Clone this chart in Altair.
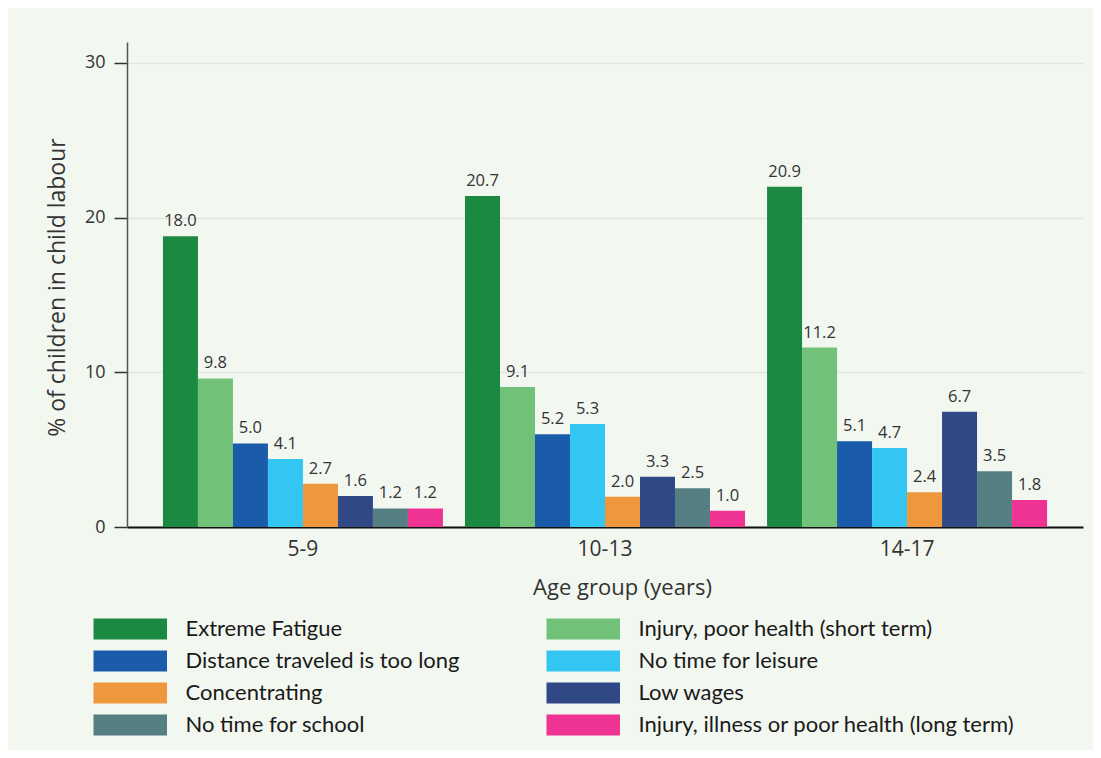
import altair as alt
import pandas as pd

groups = ["5-9", "10-13", "14-17"]
series = [
    "Extreme Fatigue",
    "Injury, poor health (short term)",
    "Distance traveled is too long",
    "No time for leisure",
    "Concentrating",
    "Low wages",
    "No time for school",
    "Injury, illness or poor health (long term)",
]
colors = ["#1c8942", "#71c278", "#1a5ca9", "#33c6f3", "#ef973c", "#314886", "#557f82", "#ef3393"]

# bar heights as drawn
bars_5_9 = [18.8, 9.6, 5.4, 4.4, 2.8, 2.0, 1.2, 1.2]
bars_10_13 = [21.4, 9.05, 6.0, 6.65, 1.95, 3.25, 2.5, 1.05]
bars_14_17 = [22.0, 11.6, 5.55, 5.1, 2.25, 7.45, 3.6, 1.75]
# printed value labels
labels_5_9 = ["18.0", "9.8", "5.0", "4.1", "2.7", "1.6", "1.2", "1.2"]
labels_10_13 = ["20.7", "9.1", "5.2", "5.3", "2.0", "3.3", "2.5", "1.0"]
labels_14_17 = ["20.9", "11.2", "5.1", "4.7", "2.4", "6.7", "3.5", "1.8"]

rows = []
for g, vals, labs in zip(groups, [bars_5_9, bars_10_13, bars_14_17],
                         [labels_5_9, labels_10_13, labels_14_17]):
    for s, v, l in zip(series, vals, labs):
        rows.append({"group": g, "series": s, "value": v, "label": l})
df = pd.DataFrame(rows)

FONT = "Open Sans"
LFONT = "Lato"
TXT = "#333333"

base = alt.Chart(df).encode(
    x=alt.X(
        "group:N",
        sort=groups,
        scale=alt.Scale(paddingInner=0.073, paddingOuter=0.119),
        axis=alt.Axis(
            title="Age group (years)",
            labelAngle=0,
            labelFontSize=21,
            labelFont=FONT,
            labelColor=TXT,
            labelPadding=11,
            ticks=False,
            domainColor="#111111",
            domainWidth=2,
            titleFont=FONT,
            titleFontSize=22,
            titleFontWeight="normal",
            titleColor=TXT,
            titleX=495,
            titleY=60,
            titleBaseline="middle",
        ),
    ),
    xOffset=alt.XOffset("series:N", sort=series,
                        scale=alt.Scale(paddingInner=0, paddingOuter=0)),
    y=alt.Y(
        "value:Q",
        scale=alt.Scale(domain=[0, 31.35], nice=False),
        axis=alt.Axis(
            title="% of children in child labour",
            values=[0, 10, 20, 30],
            grid=True,
            gridColor="#e1e5e1",
            gridWidth=1.5,
            domainColor="#555555",
            domainWidth=1.5,
            tickColor="#333333",
            tickSize=13,
            tickWidth=1.5,
            labelPadding=9,
            labelFontSize=18,
            labelFont=FONT,
            labelColor=TXT,
            titleFont=FONT,
            titleFontSize=23,
            titleFontWeight="normal",
            titleColor=TXT,
            titleX=-70,
            titleY=245,
            titleBaseline="middle",
        ),
    ),
)

bars = base.mark_bar().encode(
    color=alt.Color(
        "series:N",
        scale=alt.Scale(domain=series, range=colors),
        legend=alt.Legend(
            title=None,
            orient="none",
            direction="horizontal",
            legendX=-34,
            legendY=576,
            columns=2,
            symbolType="M-1,-1H6V1H-1Z",
            symbolSize=441,
            symbolStrokeWidth=0,
            symbolOpacity=1,
            labelOffset=70.5,
            labelFontSize=22,
            labelFont=LFONT,
            labelColor="#1a1a1a",
            labelLimit=600,
            rowPadding=10,
            columnPadding=86,
            padding=0,
        ),
    )
)

text = base.mark_text(dy=-10, baseline="alphabetic", fontSize=16.5, font=FONT, color=TXT).encode(
    text="label:N"
)

chart = (
    alt.layer(bars, text)
    .properties(
        width=956,
        height=485,
        autosize=alt.AutoSizeParams(type="none"),
        padding={"left": 119, "top": 34, "right": 10, "bottom": 223},
        background="#f2f7f0",
    )
    .configure_view(stroke=None)
)

chart.save("out.html", embed_options={"renderer": "svg", "actions": False})
